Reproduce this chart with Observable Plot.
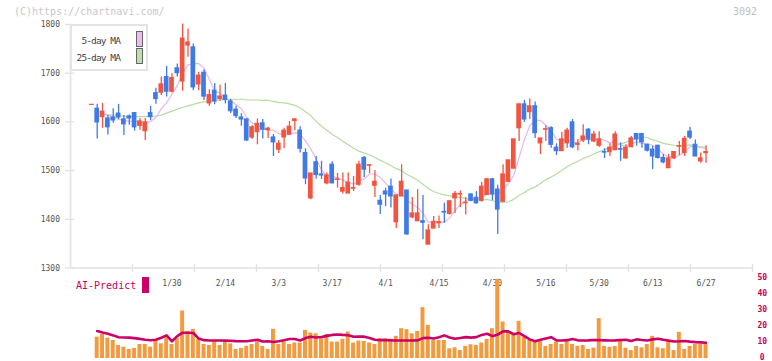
<!DOCTYPE html>
<html><head><meta charset="utf-8">
<script src="https://cdn.jsdelivr.net/npm/d3@7"></script>
<script src="https://cdn.jsdelivr.net/npm/@observablehq/plot@0.6"></script>
<style>
body{margin:0;background:#fff;}
#wrap{position:relative;width:772px;height:361px;overflow:hidden;font-family:"DejaVu Sans Mono",monospace;background:#fff;}
#wrap svg{position:absolute;left:0;top:0;}
.abs{position:absolute;white-space:nowrap;line-height:1;}
</style></head><body><div id="wrap"></div>
<script>
// ---- data ----
const open  = [1635,1627,1610,1607,1609,1617,1605,1611,1618,1592,1581,1618,1659,1660,1692,1662,1710,1683,1757,1753,1677,1701,1638,1664,1647,1654,1642,1625,1609,1605,1568,1579,1597,1583,1568,1543,1568,1574,1602,1582,1536,1443,1517,1492,1474,1512,1481,1457,1453,1463,1471,1526,1510,1469,1438,1457,1467,1394,1447,1459,1404,1396,1396,1348,1381,1392,1415,1411,1443,1451,1433,1451,1444,1438,1450,1482,1461,1436,1477,1504,1587,1636,1620,1632,1556,1584,1587,1547,1540,1556,1599,1553,1562,1584,1560,1551,1538,1538,1542,1544,1525,1548,1575,1575,1553,1543,1551,1526,1505,1525,1549,1536,1580,1553,1519,1536];
const high  = [1635,1636,1638,1613,1627,1636,1613,1614,1619,1607,1607,1632,1669,1692,1714,1699,1719,1801,1791,1760,1702,1707,1666,1679,1676,1679,1646,1632,1617,1606,1592,1606,1605,1589,1574,1562,1587,1601,1607,1590,1545,1494,1529,1519,1495,1518,1494,1495,1495,1488,1519,1529,1512,1500,1449,1464,1483,1449,1512,1459,1445,1461,1449,1389,1406,1407,1433,1437,1457,1458,1445,1452,1457,1476,1484,1484,1470,1512,1521,1564,1636,1644,1647,1641,1566,1592,1590,1555,1578,1587,1605,1564,1594,1586,1581,1580,1545,1555,1580,1557,1553,1570,1575,1575,1553,1550,1551,1533,1533,1539,1560,1570,1589,1563,1536,1551];
const low   = [1635,1565,1587,1573,1597,1605,1572,1593,1581,1583,1562,1603,1636,1654,1651,1660,1692,1663,1733,1664,1664,1644,1632,1635,1642,1637,1617,1607,1591,1560,1564,1553,1565,1566,1529,1535,1545,1572,1582,1536,1471,1440,1482,1482,1471,1473,1464,1452,1453,1457,1468,1486,1494,1445,1410,1426,1423,1381,1447,1368,1401,1396,1358,1348,1381,1381,1392,1409,1412,1424,1409,1436,1431,1435,1449,1438,1369,1436,1477,1504,1560,1599,1605,1566,1533,1560,1546,1531,1540,1546,1545,1541,1557,1553,1557,1548,1525,1529,1541,1519,1524,1548,1550,1546,1538,1502,1524,1514,1505,1523,1531,1529,1564,1529,1515,1515];
const close = [1635,1599,1621,1589,1603,1609,1595,1607,1589,1601,1599,1610,1647,1677,1662,1690,1700,1771,1763,1671,1695,1652,1655,1642,1652,1645,1622,1612,1605,1562,1589,1596,1584,1586,1558,1555,1582,1590,1605,1545,1484,1494,1491,1490,1490,1474,1482,1464,1475,1464,1512,1502,1511,1477,1430,1451,1447,1449,1477,1369,1412,1412,1393,1377,1394,1394,1414,1437,1452,1452,1434,1438,1433,1467,1482,1451,1420,1492,1521,1564,1636,1605,1632,1577,1566,1585,1553,1540,1564,1582,1548,1555,1570,1564,1574,1564,1537,1547,1574,1543,1547,1566,1564,1558,1541,1529,1526,1517,1525,1538,1550,1565,1568,1529,1525,1538];
// moving averages, from day index 2
const ma5  = [1616,1614,1610,1605,1603,1601,1601,1600,1598,1601,1609,1627,1639,1657,1675,1700,1717,1719,1720,1710,1687,1663,1659,1649,1643,1635,1627,1609,1598,1593,1587,1583,1583,1576,1573,1574,1578,1575,1561,1544,1524,1501,1490,1488,1485,1480,1477,1472,1479,1483,1493,1493,1486,1474,1463,1451,1451,1439,1431,1424,1413,1393,1398,1394,1394,1403,1418,1430,1438,1443,1442,1445,1451,1454,1451,1462,1473,1490,1527,1564,1592,1603,1603,1593,1583,1564,1562,1565,1557,1558,1564,1564,1562,1565,1562,1557,1559,1553,1550,1555,1559,1556,1555,1552,1544,1534,1528,1527,1531,1539,1549,1550,1547,1545];
const ma25 = [1617,1615,1614,1613,1612,1612,1611,1611,1611,1611,1612,1614,1618,1622,1626,1630,1633,1636,1639,1641,1642,1643,1645,1646,1647,1646,1647,1645,1645,1645,1644,1644,1642,1640,1639,1637,1634,1629,1621,1613,1601,1591,1583,1574,1568,1560,1553,1546,1540,1536,1532,1527,1521,1516,1510,1504,1500,1492,1487,1480,1472,1463,1457,1453,1450,1448,1446,1445,1443,1442,1440,1440,1441,1438,1435,1434,1436,1441,1449,1455,1462,1466,1474,1481,1487,1493,1500,1508,1514,1519,1525,1529,1534,1539,1543,1548,1552,1555,1558,1564,1567,1569,1568,1563,1560,1556,1554,1552,1551,1552,1553,1551,1549,1549];
// volume (first day has none) and AI-Predict line from day index 1
const volume = [null,13.4,15.1,12.8,11.3,8.2,7.1,5.7,6.3,8.8,8.8,7.1,10.9,9.2,13,8.8,12.4,29.8,17,18.3,11.8,8.8,8.2,10.9,8.2,10.7,9.2,5.7,6.3,7.6,8.8,10.5,7.6,5.7,18.3,8.8,10.3,8.8,9.7,9.7,17.6,16,15.5,12.4,15.1,10.3,10.3,12,16.6,9.7,10.9,10.7,9.7,8.8,12.4,12.4,10.3,13.9,18.7,18.1,15.5,17,31.9,20.8,11.3,11.3,11.3,6.1,6.7,5,7.6,8.6,8.2,9.7,12,18.7,49.7,22.9,16.6,16,23.3,13.4,11.3,10.3,11.3,7.6,8.8,10.3,8.8,10.7,8.8,7.6,8.2,5.7,6.5,25,7.6,7,7.6,10.9,6.5,5,7.6,6.7,8.8,13.9,6.7,6.1,10.3,5,16.4,5.7,7.6,8.8,8.8,8.8];
const aiPredict = [17.2,16.3,15.5,14.5,13.3,13.2,13.1,12.8,12.3,11.8,11.4,11.8,13.0,14.5,10.8,14.0,16.2,16.2,16.0,12.5,11.5,11.3,11.3,11.3,11.2,11.1,10.9,10.8,10.8,11.3,11.8,10.7,10.8,10.4,10.8,11.5,12.2,12.2,11.3,12.8,13.7,13.2,13.5,14.2,14.8,15.1,14.8,14.6,13.6,13.8,13.7,12.8,11.8,11.5,11.5,11.4,11.3,11.3,11.3,11.3,11.4,12.8,13.0,12.5,13.4,14.5,13.2,12.4,12.9,13.4,13.1,13.4,14.8,15.5,14.0,15.0,17.0,17.0,15.2,16.0,14.0,12.0,10.8,11.8,12.6,13.4,11.4,11.3,11.5,12.2,11.4,11.3,11.4,11.6,11.5,11.4,11.3,11.4,11.6,11.8,11.0,12.0,11.6,11.3,12.0,12.4,11.8,11.2,10.7,10.8,11.0,10.6,10.3,10.1,9.9];
const tickIndex  = [15,25,35,45,55,65,75,85,95,105,115];
const tickLabels = ["1/30","2/14","3/3","3/17","4/1","4/15","4/30","5/16","5/30","6/13","6/27"];
const priceTicks = [1300,1400,1500,1600,1700,1800];
const volTicks = [0,10,20,30,40,50];

// ---- build tables ----
const candles = open.map((o,i)=>({i, open:o, high:high[i], low:low[i], close:close[i]}));
const ma5Data = ma5.map((v,k)=>({i:k+2, v}));
const ma25Data = ma25.map((v,k)=>({i:k+2, v}));
const volData = volume.map((v,i)=>({i, v})).filter(d=>d.v!=null);
const aiData = aiPredict.map((v,k)=>({i:k+1, v}));

const RED="#f2553f", BLUE="#3f7ae6", GRID="#e2e2e2", MAG="#c8005e";
const col = d => d.close >= d.open ? RED : BLUE;
const XD = [-4, 123.7];
const divTicks = d3.range(1,12).map(k => XD[0] + k*(XD[1]-XD[0])/11);
const font = {fontFamily:"DejaVu Sans Mono, monospace", background:"transparent", overflow:"visible"};

const main = Plot.plot({
  width:772, height:361, marginLeft:70, marginRight:20, marginTop:24, marginBottom:93.5,
  style: {...font, background:"#fff"},
  x:{domain:XD, axis:null, label:null},
  y:{domain:[1300,1800], axis:null, label:null},
  marks:[
    Plot.ruleX([XD[0]], {y1:1300, y2:1800, stroke:GRID, strokeWidth:1.6}),
    Plot.ruleY([1300], {stroke:GRID, strokeWidth:1.6}),
    Plot.ruleY(priceTicks, {x1:XD[0]-0.94, x2:XD[0]+0.8, stroke:GRID, strokeWidth:1.4}),
    Plot.ruleX(divTicks, {y1:1290.5, y2:1307, stroke:GRID, strokeWidth:1.4}),
    Plot.axisY({ticks:priceTicks, label:null, tickSize:0, tickPadding:10.5, fontSize:8, fill:"#555", tickFormat:d=>String(d)}),
    Plot.axisX({ticks:tickIndex, label:null, tickSize:0, tickPadding:12.5, fontSize:8, fill:"#555", tickFormat:d=>tickLabels[tickIndex.indexOf(d)]}),
    Plot.line(ma25Data, {x:"i", y:"v", stroke:"#b5dca2", strokeWidth:1.2}),
    Plot.line(ma5Data, {x:"i", y:"v", stroke:"#e9b6ee", strokeWidth:1.2}),
    Plot.ruleX(candles, {x:"i", y1:"low", y2:"high", stroke:col, strokeWidth:1.3}),
    Plot.rect(candles, {x1:d=>d.i-0.44, x2:d=>d.i+0.44, y1:"open", y2:"close", fill:col, insetTop:-0.6, insetBottom:-0.6})
  ]
});

const vol = Plot.plot({
  width:772, height:361, marginLeft:70, marginRight:20, marginTop:278.3, marginBottom:3,
  style: font,
  x:{domain:XD, axis:null, label:null},
  y:{domain:[0,50], axis:null, label:null},
  marks:[
    Plot.rect(volData, {x1:d=>d.i-0.37, x2:d=>d.i+0.37, y1:0, y2:"v", fill:"#f39a3f"}),
    Plot.line(aiData, {x:"i", y:"v", stroke:"#cc0066", strokeWidth:2.6}),
    Plot.axisY({anchor:"right", label:null, ticks:volTicks, tickSize:0, tickPadding:9.7, textAnchor:"middle", dy:-1.5, fontSize:8, fontWeight:"bold", fill:MAG, tickFormat:d=>String(d)})
  ]
});

const wrap = document.getElementById("wrap");
wrap.appendChild(main);
wrap.appendChild(vol);

function add(html){ const d=document.createElement("div"); d.innerHTML=html; wrap.appendChild(d.firstElementChild); }
add(`<div class="abs" style="left:14px;top:7px;font-size:10px;color:#c8c8c8;">(C)https://chartnavi.com/</div>`);
add(`<div class="abs" style="left:733px;top:7px;font-size:10px;color:#c0c0c0;">3092</div>`);
// MA legend
add(`<div class="abs" style="left:70px;top:24px;width:78px;height:47px;box-sizing:border-box;border:2px solid #e4e4e4;background:#fff;"></div>`);
add(`<div class="abs" style="left:60px;width:60px;text-align:right;top:35.5px;font-size:9.5px;letter-spacing:-0.9px;color:#444;">5-day MA</div>`);
add(`<div class="abs" style="left:60px;width:60px;text-align:right;top:52.5px;font-size:9.5px;letter-spacing:-0.9px;color:#444;">25-day MA</div>`);
add(`<div class="abs" style="left:136px;top:31px;width:6.7px;height:15.7px;box-sizing:border-box;border:1px solid #666;background:#eebbee;"></div>`);
add(`<div class="abs" style="left:136px;top:48.3px;width:6.7px;height:15.7px;box-sizing:border-box;border:1px solid #666;background:#bcdfab;"></div>`);
// AI-Predict legend
add(`<div class="abs" style="left:76px;top:281px;font-size:10px;color:${MAG};">AI-Predict</div>`);
add(`<div class="abs" style="left:142.3px;top:276.7px;width:6.7px;height:16px;background:#cc0066;"></div>`);
</script></body></html>
